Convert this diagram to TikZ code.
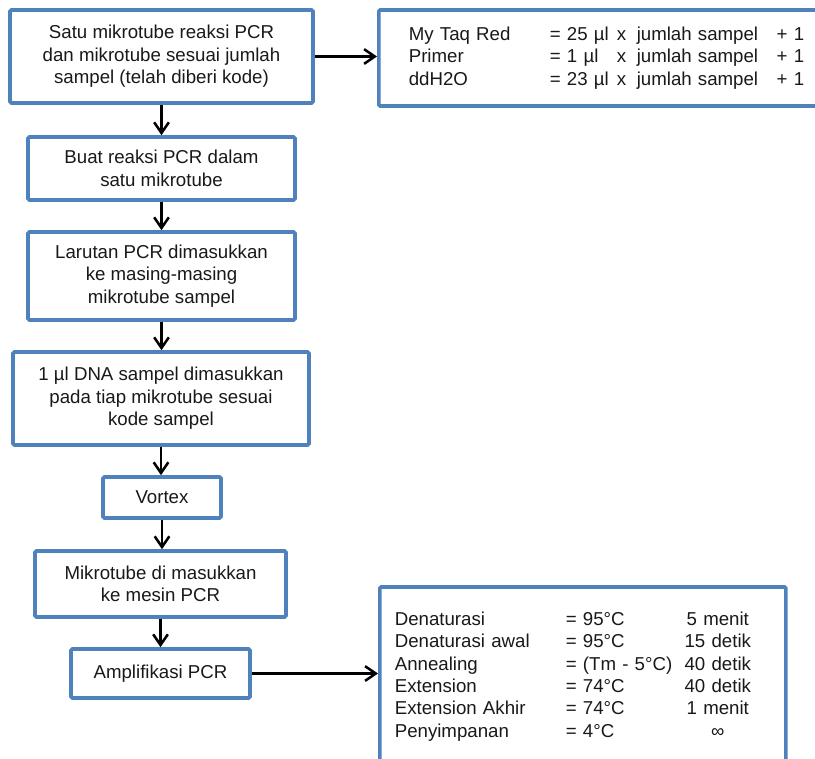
\documentclass[tikz,border=0pt]{standalone}
\usepackage{fontspec}
\setmainfont{Liberation Sans}
\usetikzlibrary{arrows.meta}
\definecolor{boxblue}{RGB}{79,129,189}
\begin{document}
\begin{tikzpicture}[x=0.75pt,y=-0.75pt,
  box/.style={draw=boxblue,line width=2.7pt,rounded corners=1pt,fill=white,
    align=center,inner sep=0pt,font=\fontsize{14pt}{16.8pt}\selectfont,text=black!90},
  arr/.style={draw=black,line width=1.9pt,-{Straight Barb[length=8pt,width=11pt]}}]
\useasboundingbox (0,0) rectangle (815,758);
\node[box,minimum width=227.25pt,minimum height=69.75pt] (b1) at (161.5,56.5)
  {Satu mikrotube reaksi PCR\\dan mikrotube sesuai jumlah\\sampel (telah diberi kode)};
\node[box,anchor=west,align=left,text width=294.75pt,inner xsep=22.5pt,minimum height=72pt] (b2) at (377,58)
  {\makebox[105.75pt][l]{My Taq Red}\makebox[50.25pt][l]{= 25 µl}\makebox[15pt][l]{x}\makebox[105pt][l]{jumlah sampel}\makebox[15pt][l]{+ 1}\\
   \makebox[105.75pt][l]{Primer}\makebox[50.25pt][l]{= 1 µl}\makebox[15pt][l]{x}\makebox[105pt][l]{jumlah sampel}\makebox[15pt][l]{+ 1}\\
   \makebox[105.75pt][l]{ddH2O}\makebox[50.25pt][l]{= 23 µl}\makebox[15pt][l]{x}\makebox[105pt][l]{jumlah sampel}\makebox[15pt][l]{+ 1}};
\node[box,minimum width=200.25pt,minimum height=47.25pt] (b3) at (161.5,168.5)
  {Buat reaksi PCR dalam\\satu mikrotube};
\node[box,minimum width=200.25pt,minimum height=66pt] (b4) at (161.5,276)
  {Larutan PCR dimasukkan\\ke masing-masing\\mikrotube sampel};
\node[box,minimum width=222pt,minimum height=69.75pt] (b5) at (161,398.5)
  {1 µl DNA sampel dimasukkan\\pada tiap mikrotube sesuai\\kode sampel};
\node[box,minimum width=88.5pt,minimum height=30.75pt] (b6) at (162,497.5)
  {Vortex};
\node[box,minimum width=188.25pt,minimum height=49.5pt] (b7) at (160.5,584)
  {Mikrotube di masukkan\\ke mesin PCR};
\node[box,minimum width=134.25pt,minimum height=36.75pt] (b8) at (160.5,673.5)
  {Amplifikasi PCR};
\node[box,anchor=west,align=left,text width=282pt,inner xsep=11.25pt,minimum height=134.25pt] (b9) at (378,676.5)
  {\makebox[128.25pt][l]{Denaturasi}\makebox[80.25pt][l]{= 95°C}\makebox[67.5pt][c]{5 menit}\\
   \makebox[128.25pt][l]{Denaturasi awal}\makebox[80.25pt][l]{= 95°C}\makebox[67.5pt][c]{15 detik}\\
   \makebox[128.25pt][l]{Annealing}\makebox[80.25pt][l]{= (Tm - 5°C)}\makebox[67.5pt][c]{40 detik}\\
   \makebox[128.25pt][l]{Extension}\makebox[80.25pt][l]{= 74°C}\makebox[67.5pt][c]{40 detik}\\
   \makebox[128.25pt][l]{Extension Akhir}\makebox[80.25pt][l]{= 74°C}\makebox[67.5pt][c]{1 menit}\\
   \makebox[128.25pt][l]{Penyimpanan}\makebox[80.25pt][l]{= 4°C}\makebox[67.5pt][c]{∞}};
\draw[arr] (b1.east) -- (b1.east -| b2.west);
\draw[arr] (b1.south) -- (b1.south |- b3.north);
\draw[arr] (b3.south) -- (b3.south |- b4.north);
\draw[arr] (b4.south) -- (b4.south |- b5.north);
\draw[arr] (b5.south) -- (b5.south |- b6.north);
\draw[arr] (b6.south) -- (b6.south |- b7.north);
\draw[arr] (b7.south) -- (b7.south |- b8.north);
\draw[arr] (b8.east) -- (b8.east -| b9.west);
\end{tikzpicture}
\end{document}
